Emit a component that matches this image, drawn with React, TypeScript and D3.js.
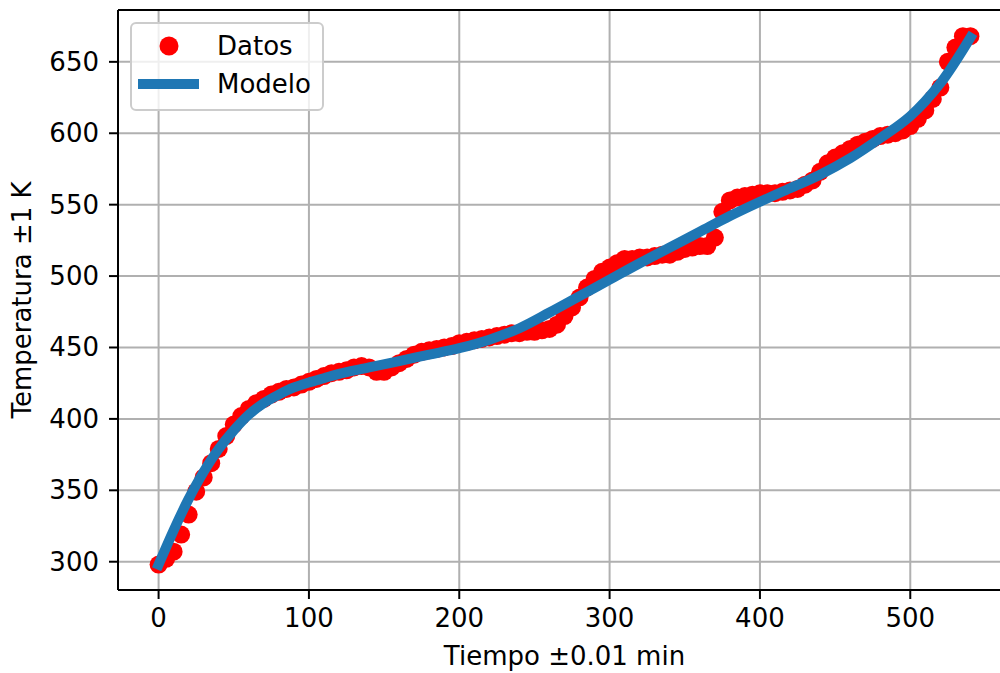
import React from 'react';
import * as d3 from 'd3';

// measured data: one reading every 5 min
const tiempos = d3.range(0, 541, 5);
const temperaturas = [
  298, 302, 307, 319, 333, 349, 359, 369, 379, 388,
  396, 402, 407, 411, 414, 417, 419, 421, 422, 424,
  426, 428, 430, 432, 433, 434, 436, 437, 436, 433,
  433, 436, 439, 442, 445, 447, 448, 449, 450, 451,
  453, 454, 455, 456, 457, 458, 459, 460, 460, 461,
  461, 462, 463, 466, 472, 478, 485, 492, 498, 503,
  506, 509, 512, 512, 513, 513, 514, 515, 515, 517,
  519, 520, 521, 521, 527, 545, 553, 555, 556, 557,
  558, 558, 558, 559, 560, 561, 564, 567, 573, 579,
  583, 586, 589, 592, 594, 596, 598, 599, 600, 602,
  605, 610, 616, 624, 632, 650, 660, 668, 668,
];

// fitted model
const modeloT = [0, 10, 20, 30, 40, 50, 60, 70, 80, 90, 100, 110, 120, 140, 160, 180, 200, 220, 240, 260, 280, 300, 320, 340, 360, 380, 400, 420, 440, 460, 480, 500, 520, 540];
const modeloTemp = [298, 322, 344, 363, 379, 392, 403, 411, 417, 422, 425.5, 428.5, 431.5, 436, 440.5, 445, 449.5, 455.5, 463.5, 474.5, 486, 497.5, 509, 520, 531, 542, 552, 561.5, 571, 582.5, 596.5, 612, 635, 667];

const xTicks = [0, 100, 200, 300, 400, 500];
const yTicks = [300, 350, 400, 450, 500, 550, 600, 650];

const W = 1000;
const H = 673;
const left = 118, right = 1011, top = 10, bottom = 590;
const font = 'DejaVu Sans, sans-serif';
const fs = 26;

export default function App() {
  const x = d3.scaleLinear().domain([-27, 567]).range([left, right]);
  const y = d3.scaleLinear().domain([280.2, 686.3]).range([bottom, top]);

  const puntos = tiempos.map((t, i) => ({ t, T: temperaturas[i] }));
  const linea = d3.line<number>()
    .x((d, i) => x(modeloT[i]))
    .y(d => y(d))
    .curve(d3.curveCatmullRom.alpha(0.5));

  return (
    <svg width={W} height={H} style={{ position: 'absolute', left: 0, top: 0, background: '#fff' }}>
      <defs>
        <clipPath id="plot">
          <rect x={left} y={top} width={right - left} height={bottom - top} />
        </clipPath>
      </defs>

      {/* grid */}
      <g stroke="#b0b0b0" strokeWidth={2}>
        {xTicks.map(t => <line key={'gx' + t} x1={x(t)} x2={x(t)} y1={top} y2={bottom} />)}
        {yTicks.map(t => <line key={'gy' + t} x1={left} x2={W} y1={y(t)} y2={y(t)} />)}
      </g>

      <g clipPath="url(#plot)">
        {puntos.map((p, i) => (
          <circle key={i} cx={x(p.t)} cy={y(p.T)} r={9} fill="#ff0000" />
        ))}
        <path d={linea(modeloTemp) || ''} fill="none" stroke="#1f77b4" strokeWidth={10}
          strokeLinecap="square" strokeLinejoin="round" />
      </g>

      {/* spines */}
      <g stroke="#000" strokeWidth={2} fill="none">
        <line x1={left} x2={left} y1={top} y2={bottom} />
        <line x1={left} x2={W} y1={bottom} y2={bottom} />
        <line x1={left} x2={W} y1={top} y2={top} />
      </g>

      {/* ticks */}
      <g fontFamily={font} fontSize={fs} fill="#000">
        {xTicks.map(t => (
          <g key={'tx' + t}>
            <line x1={x(t)} x2={x(t)} y1={bottom} y2={bottom + 9} stroke="#000" strokeWidth={2} />
            <text x={x(t)} y={bottom + 37} textAnchor="middle">{t}</text>
          </g>
        ))}
        {yTicks.map(t => (
          <g key={'ty' + t}>
            <line x1={left - 9} x2={left} y1={y(t)} y2={y(t)} stroke="#000" strokeWidth={2} />
            <text x={left - 19} y={y(t)} textAnchor="end" dominantBaseline="central">{t}</text>
          </g>
        ))}
        <text x={(left + right) / 2} y={665} textAnchor="middle">Tiempo ±0.01 min</text>
        <text transform={`translate(31,${(top + bottom) / 2}) rotate(-90)`} textAnchor="middle">Temperatura ±1 K</text>
      </g>

      {/* legend */}
      <g fontFamily={font} fontSize={fs}>
        <rect x={131} y={23} width={192} height={87} rx={5} fill="#fff" fillOpacity={0.8} stroke="#cccccc" strokeWidth={2} />
        <circle cx={169} cy={46} r={9.5} fill="#ff0000" />
        <text x={217} y={55}>Datos</text>
        <line x1={138} x2={199} y1={84} y2={84} stroke="#1f77b4" strokeWidth={10} />
        <text x={217} y={93}>Modelo</text>
      </g>
    </svg>
  );
}
